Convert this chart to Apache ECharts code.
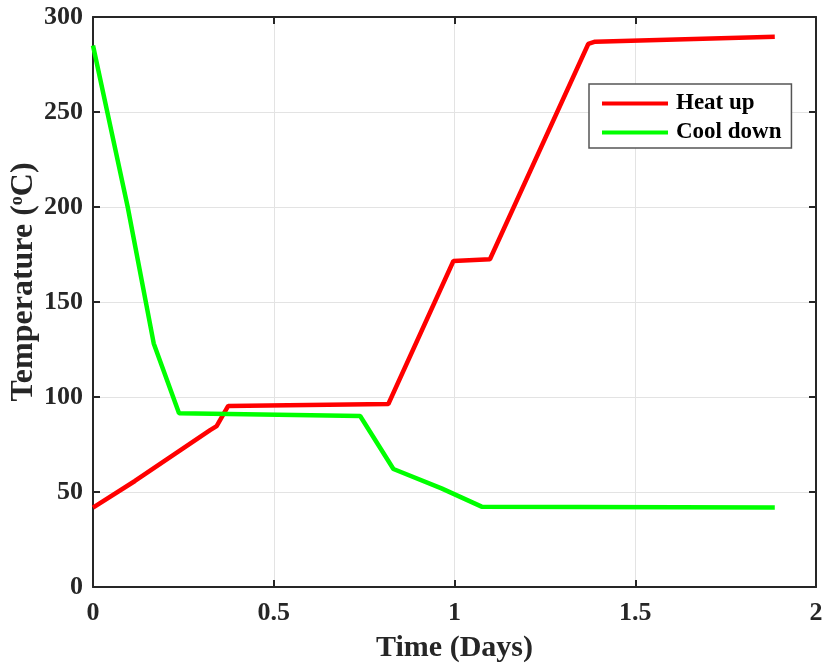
<!DOCTYPE html>
<html><head><meta charset="utf-8">
<script src="https://cdn.jsdelivr.net/npm/echarts@6/dist/echarts.min.js"></script>
<style>html,body{margin:0;padding:0;background:#fff}#c{width:823px;height:666px}</style>
</head><body><div id="c"></div>
<script>
const heatX = [0, 0.116, 0.324, 0.342, 0.374, 0.817, 0.997, 1.098, 1.370, 1.389, 1.886];
const heatY = [41.8, 55.8, 82.6, 84.7, 95.3, 96.3, 171.6, 172.5, 285.8, 287.0, 289.6];
const coolX = [0, 0.096, 0.168, 0.238, 0.739, 0.831, 0.964, 1.075, 1.886];
const coolY = [285.0, 200.0, 128.2, 91.4, 90.0, 62.1, 51.9, 42.3, 41.9];
const xTicks = [0, 0.5, 1, 1.5, 2];
const yTicks = [0, 50, 100, 150, 200, 250, 300];
const seriesNames = ['Heat up', 'Cool down'];

const font = 'Liberation Serif';
const axisCol = '#262626';
const chart = echarts.init(document.getElementById('c'));
const pair = (xs, ys) => xs.map((x, i) => [x, ys[i]]);
const axLine = {show: true, onZero: false, lineStyle: {color: axisCol, width: 2}};
const axTick = {show: true, inside: true, length: 7, lineStyle: {color: axisCol, width: 2}};
chart.setOption({
  animation: false,
  grid: {left: 93, right: 7, top: 17, bottom: 79, containLabel: false, outerBoundsMode: 'none'},
  legend: {
    left: 589, top: 84, orient: 'vertical',
    backgroundColor: '#fff', borderColor: '#555', borderWidth: 1.5,
    padding: [8, 10, 4, 13],
    itemWidth: 66, itemHeight: 4, itemGap: 6,
    icon: 'rect',
    textStyle: {fontFamily: font, fontWeight: 'bold', fontSize: 23, color: '#000', padding: [0, 0, 0, 3]},
    data: seriesNames
  },
  xAxis: [{
    type: 'value', min: 0, max: 2, interval: 0.5,
    name: 'Time (Days)', nameLocation: 'middle', nameGap: 46, nameMoveOverlap: false,
    nameTextStyle: {fontFamily: font, fontWeight: 'bold', fontSize: 30, color: '#262626'},
    axisLine: axLine, axisTick: axTick,
    axisLabel: {fontFamily: font, fontWeight: 'bold', fontSize: 26, color: '#262626', margin: 13,
      formatter: v => xTicks.includes(v) ? String(v) : ''},
    splitLine: {show: true, lineStyle: {color: '#e3e3e3', width: 1}}
  }, {
    type: 'value', min: 0, max: 2, interval: 0.5, position: 'top',
    axisLine: axLine, axisTick: axTick,
    axisLabel: {show: false}, splitLine: {show: false}
  }],
  yAxis: [{
    type: 'value', min: 0, max: 300, interval: 50,
    name: '{n|Temperature (}{s|o}{n|C)}', nameLocation: 'middle', nameGap: 53, nameRotate: 90,
    nameMoveOverlap: false,
    nameTextStyle: {padding: [0, 0, 0, 40], rich: {
      n: {fontFamily: font, fontWeight: 'bold', fontSize: 32, color: '#262626'},
      s: {fontFamily: font, fontWeight: 'bold', fontSize: 18, color: '#262626', verticalAlign: 'top', padding: [0, 0, 12, 0]}
    }},
    axisLine: axLine, axisTick: axTick,
    axisLabel: {fontFamily: font, fontWeight: 'bold', fontSize: 26, color: '#262626', margin: 10,
      formatter: v => yTicks.includes(v) ? String(v) : ''},
    splitLine: {show: true, lineStyle: {color: '#e3e3e3', width: 1}}
  }, {
    type: 'value', min: 0, max: 300, interval: 50, position: 'right',
    axisLine: axLine, axisTick: axTick,
    axisLabel: {show: false}, splitLine: {show: false}
  }],
  series: [{
    name: seriesNames[0], type: 'line', data: pair(heatX, heatY),
    showSymbol: false, symbol: 'none', color: '#ff0000',
    lineStyle: {color: '#ff0000', width: 4.5}
  }, {
    name: seriesNames[1], type: 'line', data: pair(coolX, coolY),
    showSymbol: false, symbol: 'none', color: '#00ff00',
    lineStyle: {color: '#00ff00', width: 4.5}
  }]
});
</script></body></html>
